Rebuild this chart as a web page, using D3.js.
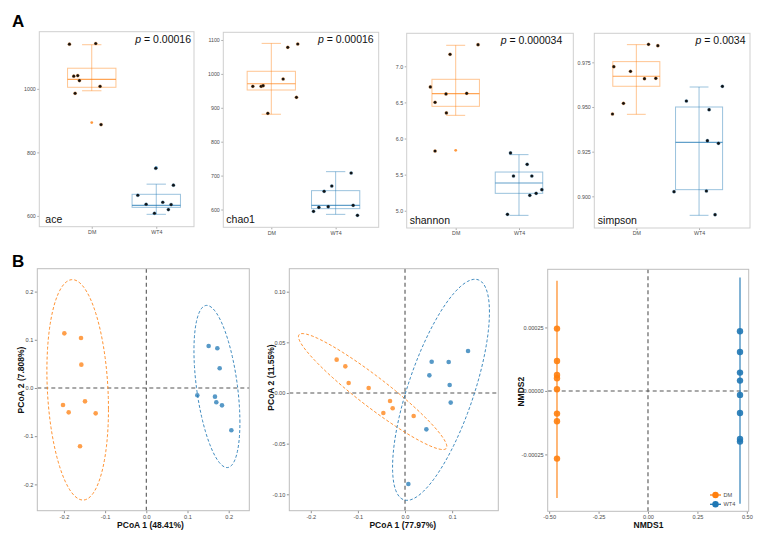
<!DOCTYPE html>
<html><head><meta charset="utf-8">
<script src="https://cdn.jsdelivr.net/npm/d3@7"></script>
<style>
body{margin:0;background:#fff}
svg{display:block}
text{font-family:"Liberation Sans",Arial,Helvetica,sans-serif}
</style>
</head><body>
<svg id="chart" width="765" height="541"></svg>
<script>
// ---------------- DATA ----------------
const groups = ["DM", "WT4"];
const metrics = ["ace", "chao1", "shannon", "simpson"];
const pValues = ["0.00016", "0.00016", "0.000034", "0.0034"];

// alpha diversity samples (value) and their horizontal jitter (in category units)
const aceDM = [1140.7, 1142.8, 1039.9, 1042, 1026, 1008, 986, 887.6];
const aceDMJit = [-0.346, 0.062, -0.279, -0.217, -0.191, 0.129, -0.258, 0.144];
const aceWT4 = [750, 696.6, 665, 636.7, 643, 635.7, 620, 608.4];
const aceWT4Jit = [-0.008, 0.266, -0.286, -0.157, 0.101, 0.230, 0.188, -0.028];
const chao1DM = [963.3, 963.3, 965.3, 1078.4, 1088.2, 985, 930.9, 883.7];
const chao1DMJit = [-0.287, -0.158, -0.127, 0.256, 0.411, 0.184, 0.391, -0.054];
const chao1WT4 = [594.6, 606.4, 653.6, 608.4, 669.3, 707.7, 612.3, 582.8];
const chao1WT4Jit = [-0.344, -0.261, -0.179, -0.116, -0.06, 0.241, 0.272, 0.339];
const shannonDM = [6.714, 6.501, 6.617, 6.626, 7.166, 7.3, 6.354, 5.827];
const shannonDMJit = [-0.4, -0.326, -0.153, 0.174, -0.089, 0.353, -0.147, -0.326];
const shannonWT4 = [5.80, 5.481, 5.643, 5.481, 5.292, 5.241, 5.213, 4.95];
const shannonWT4Jit = [-0.134, -0.087, 0.129, 0.203, 0.361, 0.271, 0.171, -0.182];
const simpsonDM = [0.97257, 0.96996, 0.96586, 0.96605, 0.98507, 0.98433, 0.95205, 0.94608];
const simpsonDMJit = [-0.359, -0.093, 0.130, 0.311, 0.194, 0.343, -0.205, -0.380];
const simpsonWT4 = [0.95336, 0.9485, 0.96157, 0.93116, 0.92967, 0.90261, 0.90298, 0.88974];
const simpsonWT4Jit = [-0.202, 0.160, 0.372, 0.133, 0.309, -0.399, 0.117, 0.255];

// box statistics: [lower whisker, Q1, median, Q3, upper whisker]
const aceBoxDM = [994, 1005, 1030, 1065, 1139];
const aceBoxWT4 = [605, 627, 633, 668, 700];
const chao1BoxDM = [881, 952.5, 971, 1007.7, 1090];
const chao1BoxWT4 = [585.7, 602.5, 612.3, 655.6, 711.6];
const shannonBoxDM = [6.321, 6.446, 6.621, 6.82, 7.291];
const shannonBoxWT4 = [4.936, 5.241, 5.384, 5.536, 5.777];
const simpsonBoxDM = [0.9459, 0.9616, 0.9672, 0.9754, 0.9849];
const simpsonBoxWT4 = [0.88937, 0.90373, 0.93022, 0.950, 0.96119];

// boxplot outliers
const aceOutDM = [894], aceOutWT4 = [752];
const chao1OutDM = [], chao1OutWT4 = [];
const shannonOutDM = [5.837], shannonOutWT4 = [];
const simpsonOutDM = [], simpsonOutWT4 = [];

// tick labels
const aceTicks = [600, 800, 1000];
const chao1Ticks = [600, 700, 800, 900, 1000, 1100];
const shannonTicks = [5.0, 5.5, 6.0, 6.5, 7.0];
const simpsonTicks = [0.900, 0.925, 0.950, 0.975];

// beta diversity: PCoA (unweighted), PCoA (weighted), NMDS
const pcoa1DMx = [-0.199, -0.1585, -0.1577, -0.2022, -0.1884, -0.1488, -0.1229, -0.1609];
const pcoa1DMy = [0.1134, 0.1037, 0.0484, -0.0353, -0.0505, -0.0277, -0.0526, -0.121];
const pcoa1WT4x = [0.1513, 0.1724, 0.1781, 0.1238, 0.1667, 0.1699, 0.1837, 0.2064];
const pcoa1WT4y = [0.0871, 0.0823, 0.0408, -0.0152, -0.018, -0.0297, -0.036, -0.0878];
const pcoa2DMx = [-0.1451, -0.1267, -0.1196, -0.0771, -0.0318, -0.0262, -0.046, 0.0184];
const pcoa2DMy = [0.0329, 0.0263, 0.0099, 0.0049, -0.0079, -0.0151, -0.0197, -0.0227];
const pcoa2WT4x = [0.0566, 0.0927, 0.1338, 0.0517, 0.0948, 0.097, 0.0453, 0.0071];
const pcoa2WT4y = [0.0309, 0.0306, 0.0415, 0.0174, 0.0079, -0.0095, -0.0359, -0.0898];
const nmdsDMx = [-0.4603, -0.4603, -0.4603, -0.4603, -0.4603, -0.4603, -0.4603, -0.4603];
const nmdsDMy = [0.0002454, 0.0001181, 0.000063, 0.0000499, 0.0000066, -0.0000892, -0.0001194, -0.0002664];
const nmdsWT4x = [0.4654, 0.4654, 0.4654, 0.4654, 0.4654, 0.4654, 0.4654, 0.4654];
const nmdsWT4y = [0.0002349, 0.0001535, 0.0000722, 0.0000407, -0.0000157, -0.0000866, -0.000189, -0.0001995];

const pcoa1Labels = ["PCoA 1 (48.41%)", "PCoA 2 (7.808%)"];
const pcoa2Labels = ["PCoA 1 (77.97%)", "PCoA 2 (11.55%)"];
const nmdsLabels = ["NMDS1", "NMDS2"];
const pcoa1XTicks = [-0.2, -0.1, 0.0, 0.1, 0.2], pcoa1YTicks = [-0.2, -0.1, 0.0, 0.1, 0.2];
const pcoa2XTicks = [-0.2, -0.1, 0.0, 0.1], pcoa2YTicks = [-0.10, -0.05, 0.00, 0.05, 0.10];
const nmdsXTicks = [-0.50, -0.25, 0.00, 0.25, 0.50], nmdsYTicks = [-0.00025, 0.00000, 0.00025];

// ---------------- STYLE ----------------
const colors = {DM: "#FF7F0E", WT4: "#1F77B4"};
const FONT_TICK = 5.3, TICK_COL = "#4d4d4d";
const svg = d3.select("#chart");
const hy = f => (v => f(v).replace("\u2212", "-"));

// ---------------- PANEL A ----------------
const A = [
  {name: "ace", box: [39.3, 194, 31.7, 226.7], ydom: [566, 1180], xdom: [-0.813, 1.585],
   vals: [aceDM, aceWT4], jit: [aceDMJit, aceWT4Jit], stats: [aceBoxDM, aceBoxWT4], out: [aceOutDM, aceOutWT4],
   ticks: aceTicks, fmt: d3.format("d"), pRight: 3, lblX: 6},
  {name: "chao1", box: [223.3, 378.7, 32.3, 227.3], ydom: [547.5, 1122.7], xdom: [-0.746, 1.669],
   vals: [chao1DM, chao1WT4], jit: [chao1DMJit, chao1WT4Jit], stats: [chao1BoxDM, chao1BoxWT4], out: [chao1OutDM, chao1OutWT4],
   ticks: chao1Ticks, fmt: d3.format("d"), pRight: 5, lblX: 3},
  {name: "shannon", box: [406.7, 573.3, 33.3, 228], ydom: [4.761, 7.457], xdom: [-0.774, 1.858],
   vals: [shannonDM, shannonWT4], jit: [shannonDMJit, shannonWT4Jit], stats: [shannonBoxDM, shannonBoxWT4], out: [shannonOutDM, shannonOutWT4],
   ticks: shannonTicks, fmt: d3.format(".1f"), pRight: 11, lblX: 3},
  {name: "simpson", box: [594.3, 750, 33.3, 228], ydom: [0.88227, 0.99125], xdom: [-0.67, 1.812],
   vals: [simpsonDM, simpsonWT4], jit: [simpsonDMJit, simpsonWT4Jit], stats: [simpsonBoxDM, simpsonBoxWT4], out: [simpsonOutDM, simpsonOutWT4],
   ticks: simpsonTicks, fmt: d3.format(".3f"), pRight: 4.5, lblX: 3.5}
];

svg.append("text").attr("x", 12).attr("y", 27).attr("font-size", 17).attr("font-weight", "bold").text("A");
svg.append("text").attr("x", 12).attr("y", 267).attr("font-size", 17).attr("font-weight", "bold").text("B");

A.forEach((p, pi) => {
  const [x0, x1, y0, y1] = p.box;
  const x = d3.scaleLinear().domain(p.xdom).range([x0, x1]);
  const y = d3.scaleLinear().domain(p.ydom).range([y1, y0]);
  const g = svg.append("g");
  // y axis
  const ya = g.append("g").attr("transform", `translate(${x0},0)`)
    .call(d3.axisLeft(y).tickValues(p.ticks).tickFormat(p.fmt).tickSize(2).tickPadding(1.5));
  ya.select(".domain").remove();
  ya.selectAll("line").attr("stroke", "#555").attr("stroke-width", 0.5);
  ya.selectAll("text").attr("font-size", FONT_TICK).attr("fill", TICK_COL).attr("font-family", "Liberation Sans, Arial, sans-serif");
  // x axis
  const xa = g.append("g").attr("transform", `translate(0,${y1})`)
    .call(d3.axisBottom(x).tickValues([0, 1]).tickFormat(i => groups[i]).tickSize(2).tickPadding(1.5));
  xa.select(".domain").remove();
  xa.selectAll("line").attr("stroke", "#555").attr("stroke-width", 0.5);
  xa.selectAll("text").attr("font-size", FONT_TICK).attr("fill", TICK_COL).attr("font-family", "Liberation Sans, Arial, sans-serif");

  groups.forEach((gname, gi) => {
    const col = colors[gname];
    const s = p.stats[gi];
    const bw = 0.375, cw = 0.15;
    // error bar whisker
    g.append("line").attr("x1", x(gi)).attr("x2", x(gi)).attr("y1", y(s[0])).attr("y2", y(s[4]))
      .attr("stroke", col).attr("stroke-opacity", 0.45).attr("stroke-width", 1);
    [s[0], s[4]].forEach(v => g.append("line").attr("x1", x(gi - cw)).attr("x2", x(gi + cw))
      .attr("y1", y(v)).attr("y2", y(v)).attr("stroke", col).attr("stroke-opacity", 0.45).attr("stroke-width", 1));
    // box
    g.append("rect").attr("x", x(gi - bw)).attr("width", x(gi + bw) - x(gi - bw))
      .attr("y", y(s[3])).attr("height", y(s[1]) - y(s[3]))
      .attr("fill", "none").attr("stroke", col).attr("stroke-opacity", 0.45).attr("stroke-width", 1);
    g.append("line").attr("x1", x(gi - bw)).attr("x2", x(gi + bw)).attr("y1", y(s[2])).attr("y2", y(s[2]))
      .attr("stroke", col).attr("stroke-opacity", 0.7).attr("stroke-width", 1.1);
    // outliers
    p.out[gi].forEach(v => g.append("circle").attr("cx", x(gi)).attr("cy", y(v)).attr("r", 1.4).attr("fill", col).attr("fill-opacity", 0.8));
    // jittered points
    p.vals[gi].forEach((v, k) => g.append("circle").attr("cx", x(gi + p.jit[gi][k])).attr("cy", y(v)).attr("r", 1.6)
      .attr("fill", "#111").attr("stroke", col).attr("stroke-opacity", 0.5).attr("stroke-width", 0.5));
  });

  g.append("rect").attr("x", x0).attr("y", y0).attr("width", x1 - x0).attr("height", y1 - y0)
    .attr("fill", "none").attr("stroke", "#cfcfcf").attr("stroke-width", 1);

  const pt = g.append("text").attr("x", x1 - p.pRight).attr("y", y0 + 11).attr("text-anchor", "end").attr("font-size", 10.5).attr("fill", "#111");
  pt.append("tspan").attr("font-style", "italic").text("p");
  pt.append("tspan").text(" = " + pValues[pi]);
  g.append("text").attr("x", x0 + p.lblX).attr("y", y1 - 4).attr("font-size", 10.5).attr("fill", "#111").text(metrics[pi]);
});

// ---------------- PANEL B ----------------
// robust t covariance (MASS::cov.trob) + stat_ellipse (type "t", level 0.95)
function covTrob(pts, nu = 5, maxit = 25, tol = 0.01) {
  const n = pts.length, p = 2;
  let loc = [d3.mean(pts, d => d[0]), d3.mean(pts, d => d[1])];
  let w = pts.map(() => 1), X;
  for (let it = 0; it < maxit; it++) {
    const w0 = w.slice();
    X = pts.map(d => [d[0] - loc[0], d[1] - loc[1]]);
    const sw = d3.sum(w);
    let a = 0, b = 0, c = 0;
    X.forEach((v, i) => { a += w[i] * v[0] * v[0] / sw; b += w[i] * v[0] * v[1] / sw; c += w[i] * v[1] * v[1] / sw; });
    const det = a * c - b * b;
    const Q = (a <= 1e-12 * c || det <= 1e-12 * c * c) ? X.map(v => v[1] * v[1] / c)
      : X.map(v => (c * v[0] * v[0] - 2 * b * v[0] * v[1] + a * v[1] * v[1]) / det);
    w = Q.map(q => (nu + p) / (nu + q));
    const sw2 = d3.sum(w);
    loc = [d3.sum(pts, (d, i) => w[i] * d[0]) / sw2, d3.sum(pts, (d, i) => w[i] * d[1]) / sw2];
    if (w.every((v, i) => Math.abs(v - w0[i]) < tol)) break;
  }
  let a = 0, b = 0, c = 0;
  X.forEach((v, i) => { a += w[i] * v[0] * v[0]; b += w[i] * v[0] * v[1]; c += w[i] * v[1] * v[1]; });
  return {center: loc, cov: [a / n, b / n, c / n]};
}
function ellipsePts(pts, level = 0.95, seg = 120) {
  const n = pts.length, d2 = n - 1;
  const fq = (d2 / 2) * (Math.pow(1 - level, -2 / d2) - 1); // qf(level, 2, d2)
  const r = Math.sqrt(2 * fq);
  const {center, cov} = covTrob(pts);
  const [a, b, c] = cov;
  const u11 = Math.sqrt(Math.max(a, 0));
  const u12 = u11 > 0 ? b / u11 : 0;
  const u22 = Math.sqrt(Math.max(c - u12 * u12, 0));
  return d3.range(seg + 1).map(i => {
    const t = i * 2 * Math.PI / seg, ct = Math.cos(t), st = Math.sin(t);
    return [center[0] + r * ct * u11, center[1] + r * (ct * u12 + st * u22)];
  });
}

const B = [
  {box: [37.3, 249.3, 268.7, 510.7], xdom: [-0.2646, 0.25], ydom: [-0.2546, 0.2475],
   xs: [pcoa1DMx, pcoa1WT4x], ys: [pcoa1DMy, pcoa1WT4y], labels: pcoa1Labels, xt: pcoa1XTicks, yt: pcoa1YTicks,
   xf: hy(d3.format(".1f")), yf: hy(d3.format(".1f")), type: "pcoa", xTitle: 150.5, yTitleX: 20.7, yTitleY: 380},
  {box: [289.3, 498.3, 268.7, 510.7], xdom: [-0.2456, 0.198], ydom: [-0.1162, 0.1227],
   xs: [pcoa2DMx, pcoa2WT4x], ys: [pcoa2DMy, pcoa2WT4y], labels: pcoa2Labels, xt: pcoa2XTicks, yt: pcoa2YTicks,
   xf: hy(d3.format(".1f")), yf: hy(d3.format(".2f")), type: "pcoa", xTitle: 402.8, yTitleX: 270.7, yTitleY: 377.5},
  {box: [547.7, 748.7, 269.3, 511.3], xdom: [-0.5073, 0.5094], ydom: [-0.000474, 0.000479],
   xs: [nmdsDMx, nmdsWT4x], ys: [nmdsDMy, nmdsWT4y], labels: nmdsLabels, xt: nmdsXTicks, yt: nmdsYTicks,
   xf: hy(d3.format(".2f")), yf: hy(d3.format(".5f")), type: "nmds", xTitle: 648.5, yTitleX: 520.7, yTitleY: 391.7}
];

B.forEach(p => {
  const [x0, x1, y0, y1] = p.box;
  const x = d3.scaleLinear().domain(p.xdom).range([x0, x1]);
  const y = d3.scaleLinear().domain(p.ydom).range([y1, y0]);
  const g = svg.append("g");
  const ya = g.append("g").attr("transform", `translate(${x0},0)`)
    .call(d3.axisLeft(y).tickValues(p.yt).tickFormat(p.yf).tickSize(2.5).tickPadding(1.5));
  ya.select(".domain").remove();
  ya.selectAll("line").attr("stroke", "#444").attr("stroke-width", 0.6);
  ya.selectAll("text").attr("font-size", 5.6).attr("fill", TICK_COL).attr("font-family", "Liberation Sans, Arial, sans-serif");
  const xa = g.append("g").attr("transform", `translate(0,${y1})`)
    .call(d3.axisBottom(x).tickValues(p.xt).tickFormat(p.xf).tickSize(2.5).tickPadding(1.5));
  xa.select(".domain").remove();
  xa.selectAll("line").attr("stroke", "#444").attr("stroke-width", 0.6);
  xa.selectAll("text").attr("font-size", 5.6).attr("fill", TICK_COL).attr("font-family", "Liberation Sans, Arial, sans-serif");

  // zero reference lines
  g.append("line").attr("x1", x(0)).attr("x2", x(0)).attr("y1", y0).attr("y2", y1)
    .attr("stroke", "#555").attr("stroke-width", 1.1).attr("stroke-dasharray", "4,3");
  g.append("line").attr("x1", x0).attr("x2", x1).attr("y1", y(0)).attr("y2", y(0))
    .attr("stroke", "#555").attr("stroke-width", 1.1).attr("stroke-dasharray", "4,3");

  const line = d3.line().x(d => x(d[0])).y(d => y(d[1]));
  groups.forEach((gname, gi) => {
    const col = colors[gname];
    const pts = p.xs[gi].map((v, k) => [v, p.ys[gi][k]]);
    const ell = ellipsePts(pts);
    if (p.type === "pcoa") {
      g.append("path").attr("d", line(ell)).attr("fill", "none").attr("stroke", col)
        .attr("stroke-opacity", 0.85).attr("stroke-width", 1).attr("stroke-dasharray", "3,2");
      pts.forEach(d => g.append("circle").attr("cx", x(d[0])).attr("cy", y(d[1])).attr("r", 2.3)
        .attr("fill", col).attr("fill-opacity", 0.75));
    } else {
      g.append("path").attr("d", line(ell)).attr("fill", "none").attr("stroke", col)
        .attr("stroke-opacity", 0.85).attr("stroke-width", 1.3);
      pts.forEach(d => g.append("circle").attr("cx", x(d[0])).attr("cy", y(d[1])).attr("r", 3.2)
        .attr("fill", col).attr("fill-opacity", 0.9));
    }
  });

  g.append("rect").attr("x", x0).attr("y", y0).attr("width", x1 - x0).attr("height", y1 - y0)
    .attr("fill", "none").attr("stroke", "#bdbdbd").attr("stroke-width", 1);

  g.append("text").attr("x", p.xTitle).attr("y", 528).attr("text-anchor", "middle")
    .attr("font-size", 8.5).attr("font-weight", "bold").attr("fill", "#111").text(p.labels[0]);
  g.append("text").attr("transform", `translate(${p.yTitleX + 3},${p.yTitleY}) rotate(-90)`).attr("text-anchor", "middle")
    .attr("font-size", 8.5).attr("font-weight", "bold").attr("fill", "#111").text(p.labels[1]);

  if (p.type === "nmds") {
    const lg = g.append("g");
    groups.forEach((gname, gi) => {
      const ly = 495 + gi * 9.3;
      lg.append("line").attr("x1", 710).attr("x2", 721).attr("y1", ly).attr("y2", ly)
        .attr("stroke", colors[gname]).attr("stroke-width", 1.3);
      lg.append("circle").attr("cx", 715.5).attr("cy", ly).attr("r", 3.2).attr("fill", colors[gname]);
      lg.append("text").attr("x", 723.5).attr("y", ly + 2).attr("font-size", 5.6).attr("fill", TICK_COL).text(gname);
    });
  }
});
</script>
</body></html>
